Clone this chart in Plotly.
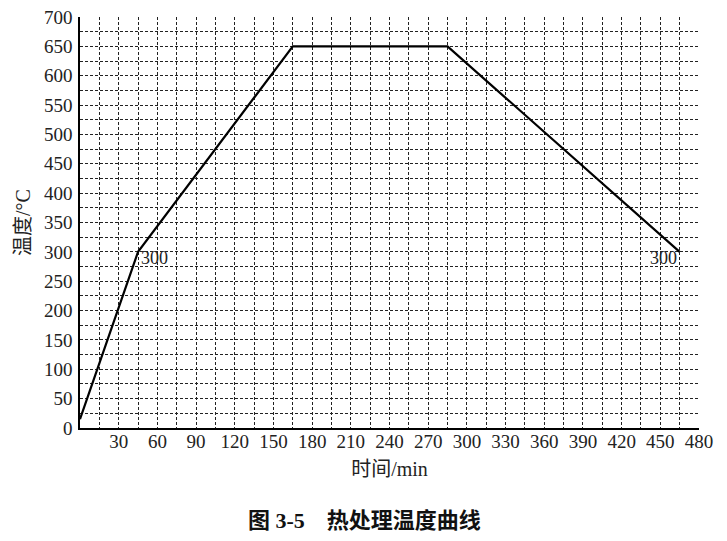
import plotly.graph_objects as go

time_min = [0, 45, 165, 285, 465]
temp_c = [15, 300, 650, 650, 300]
x_tick_vals = list(range(30, 481, 30))
x_tick_text = [str(v) for v in x_tick_vals]
y_tick_vals = list(range(0, 701, 50))
y_tick_text = [str(v) for v in y_tick_vals]
label_points_x = [45, 465]
label_points_y = [300, 300]
label_texts = ["300", "300"]

FONT = "Liberation Serif, Times New Roman, Noto Sans CJK SC, serif"
CJK = "Liberation Serif, Noto Sans CJK SC, serif"

fig = go.Figure()
fig.add_trace(go.Scatter(x=time_min, y=temp_c, mode="lines",
                         line=dict(color="black", width=2.2), showlegend=False))

fig.add_annotation(x=label_points_x[0], y=label_points_y[0], text=label_texts[0],
                   showarrow=False, xanchor="left", yanchor="top", xshift=1, yshift=6,
                   font=dict(family=FONT, size=18, color="#222"))
fig.add_annotation(x=label_points_x[1], y=label_points_y[1], text=label_texts[1],
                   showarrow=False, xanchor="right", yanchor="top", xshift=-1, yshift=6,
                   font=dict(family=FONT, size=18, color="#222"))

grid = dict(showgrid=True, gridcolor="#222", gridwidth=1, griddash="3px,2px")

fig.update_xaxes(range=[0, 480], tickvals=x_tick_vals, ticktext=x_tick_text,
                 showline=True, linecolor="black", linewidth=1.5, ticks="",
                 zeroline=False, automargin=False, ticklabelstandoff=-5,
                 ticklabeloverflow="allow", **grid,
                 minor=dict(dtick=15, tick0=0, showgrid=True, gridcolor="#222",
                            gridwidth=1, griddash="3px,2px"),
                 tickfont=dict(family=FONT, size=19, color="#222"),
                 title=dict(text="时间/min", font=dict(family=CJK, size=20, color="#222"),
                            standoff=11))
fig.update_yaxes(range=[0, 700], tickvals=y_tick_vals, ticktext=y_tick_text,
                 showline=True, linecolor="black", linewidth=1.5, ticks="",
                 zeroline=False, automargin=False, ticklabelstandoff=2,
                 ticklabeloverflow="allow", **grid,
                 minor=dict(dtick=25, tick0=0, showgrid=True, gridcolor="#222",
                            gridwidth=1, griddash="3px,2px"),
                 tickfont=dict(family=FONT, size=19, color="#222"),
                 title=dict(text="温度/°C", font=dict(family=CJK, size=20, color="#222"),
                            standoff=8))

fig.add_annotation(xref="paper", yref="paper", x=0.459, y=-0.224,
                   text="<b>图 3-5    热处理温度曲线</b>", showarrow=False,
                   xanchor="center", yanchor="middle",
                   font=dict(family=CJK, size=22, color="#111"))

fig.update_layout(width=711, height=530, plot_bgcolor="white", paper_bgcolor="white",
                  margin=dict(l=72, r=20, t=9, b=110))

fig.write_html("out.html")
